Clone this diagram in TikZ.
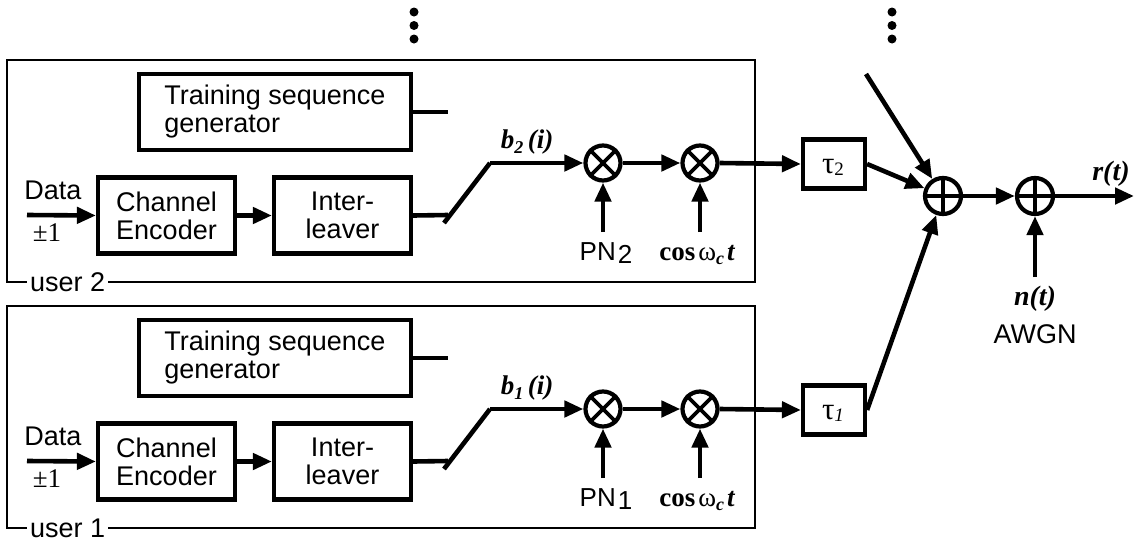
\documentclass[tikz,border=0pt]{standalone}
\usepackage{fontspec}
\setmainfont{Liberation Sans}
\newfontfamily\tms{Liberation Serif}
\usetikzlibrary{arrows.meta}
\begin{document}
\begin{tikzpicture}[x=1pt,y=-1pt,
  every node/.style={font=\fontsize{27}{28}\selectfont},
  sig/.style={line width=4.6pt},
  arr/.style={sig,-{Triangle[length=19pt 0 0,width=16pt 0 0]}},
  blk/.style={draw,line width=4.2pt,inner sep=0pt,align=center},
  frame/.style={draw,line width=2.8pt},
  mixer/.style={draw,circle,line width=4.2pt,minimum size=35pt,inner sep=0pt},
  lbl/.style={anchor=base,inner sep=0pt},
  tag/.style={anchor=base west,fill=white,inner xsep=3pt,inner ysep=0pt},
  dot/.style={fill=black,circle,inner sep=0pt,minimum size=9pt}]
\useasboundingbox (0,0) rectangle (1135,544);

% two identical transmitter chains, user 2 on top and user 1 below
\foreach \u/\yo in {2/0,1/246}{
  % enclosing frame with its label
  \draw[frame] (7,{60+\yo}) rectangle (755,{282+\yo});
  \node[tag] (tag\u) at (27,{291+\yo}) {user \u};
  % blocks
  \node[blk,minimum width=272pt,minimum height=76pt,align=left] (ts\u) at (275,{112+\yo})
    {Training sequence\\generator};
  \node[blk,minimum width=137pt,minimum height=76pt] (ce\u) at (166.5,{215.5+\yo})
    {Channel\\Encoder};
  \node[blk,minimum width=137pt,minimum height=76pt] (il\u) at (342.5,{215.5+\yo})
    {Inter-\\leaver};
  \coordinate (stub\u) at (448,{112+\yo});
  \draw[sig] (ts\u.east) -- (stub\u);
  % data input
  \coordinate (din\u) at (27,{215+\yo});
  \draw[arr] (din\u) -- (ce\u.west);
  \node[lbl] (data\u) at (53,{199+\yo}) {Data};
  \node[lbl,font=\tms\fontsize{27}{28}\selectfont] (pm\u) at (47,{241+\yo}) {±1};
  \draw[arr] (ce\u.east) -- (il\u.west);
  % selector switch
  \coordinate (swa\u) at (448,{215+\yo});
  \coordinate (swb\u) at (444,{223+\yo});
  \coordinate (swc\u) at (490,{163+\yo});
  \draw[sig] (il\u.east) -- (swa\u);
  \draw[sig,line cap=butt] (swb\u) -- (swc\u);
  % spreading and carrier mixers
  \node[mixer] (mx\u) at (603,{163+\yo}) {};
  \node[mixer] (mc\u) at (700,{163+\yo}) {};
  \foreach \m in {mx\u,mc\u}{
    \draw[line width=3.8pt] (\m.north west) -- (\m.south east)
                            (\m.north east) -- (\m.south west);
  }
  \draw[arr] (swc\u) -- (mx\u.west);
  \draw[arr] (mx\u.east) -- (mc\u.west);
  \node[lbl,font=\tms\bfseries\itshape\fontsize{27}{28}\selectfont] (b\u) at (527,{148+\yo})
    {b\raisebox{-5pt}{\fontsize{18}{18}\selectfont\u}\,(i)};
  \coordinate (pn\u) at (603,{232+\yo});
  \coordinate (cs\u) at (700,{232+\yo});
  \draw[arr] (pn\u) -- (mx\u.south);
  \draw[arr] (cs\u) -- (mc\u.south);
  \node[lbl,font=\fontsize{26}{27}\selectfont] (pnl\u) at (606,{260+\yo})
    {PN\kern2pt\raisebox{-3pt}{\u}};
  \node[lbl,font=\tms\fontsize{27}{28}\selectfont] (csl\u) at (697,{260+\yo})
    {\bfseries cos\kern3pt\mdseries ω\raisebox{-4pt}{\bfseries\itshape\fontsize{18}{18}\selectfont c}\kern3pt\bfseries\itshape t};
  % path delay
  \node[blk,minimum width=62pt,minimum height=49pt] (tau\u) at (834,{164+\yo}) {};
  \draw[arr] (mc\u.east) -- (tau\u.west);
}
\node[lbl,font=\tms\fontsize{31}{32}\selectfont] (t2) at (833,{173}) {τ\raisebox{-2pt}{\fontsize{19}{19}\selectfont 2}};
\node[lbl,font=\tms\fontsize{31}{32}\selectfont] (t1) at (833,{419}) {τ\raisebox{-2pt}{\fontsize{19}{19}\selectfont\itshape 1}};

% channel: sum of users, then additive noise
\node[mixer,minimum size=36pt] (s1) at (943,196) {};
\node[mixer,minimum size=36pt] (s2) at (1035,196) {};
\foreach \m in {s1,s2}{
  \draw[line width=3.8pt] (\m.north) -- (\m.south) (\m.west) -- (\m.east);
}
\coordinate (more) at (866,74);
\draw[arr] (more) -- (s1);
\draw[arr] (tau2.east) -- (s1);
\draw[arr] (tau1.east) -- (s1);
\draw[arr] (s1.east) -- (s2.west);
\coordinate (out) at (1134,196);
\draw[arr] (s2.east) -- (out);
\node[lbl,font=\tms\bfseries\itshape\fontsize{28}{29}\selectfont] (rt) at (1111,180) {r(t)};
\coordinate (noise) at (1035,277);
\draw[arr] (noise) -- (s2.south);
\node[lbl,font=\tms\bfseries\itshape\fontsize{28}{29}\selectfont] (nt) at (1035,305) {n(t)};
\node[lbl] (awgn) at (1035,343) {AWGN};

% further users not shown
\foreach \x in {414,892}{
  \foreach \y in {12,25.5,39}{
    \node[dot] at (\x,\y) {};
  }
}
\end{tikzpicture}
\end{document}
